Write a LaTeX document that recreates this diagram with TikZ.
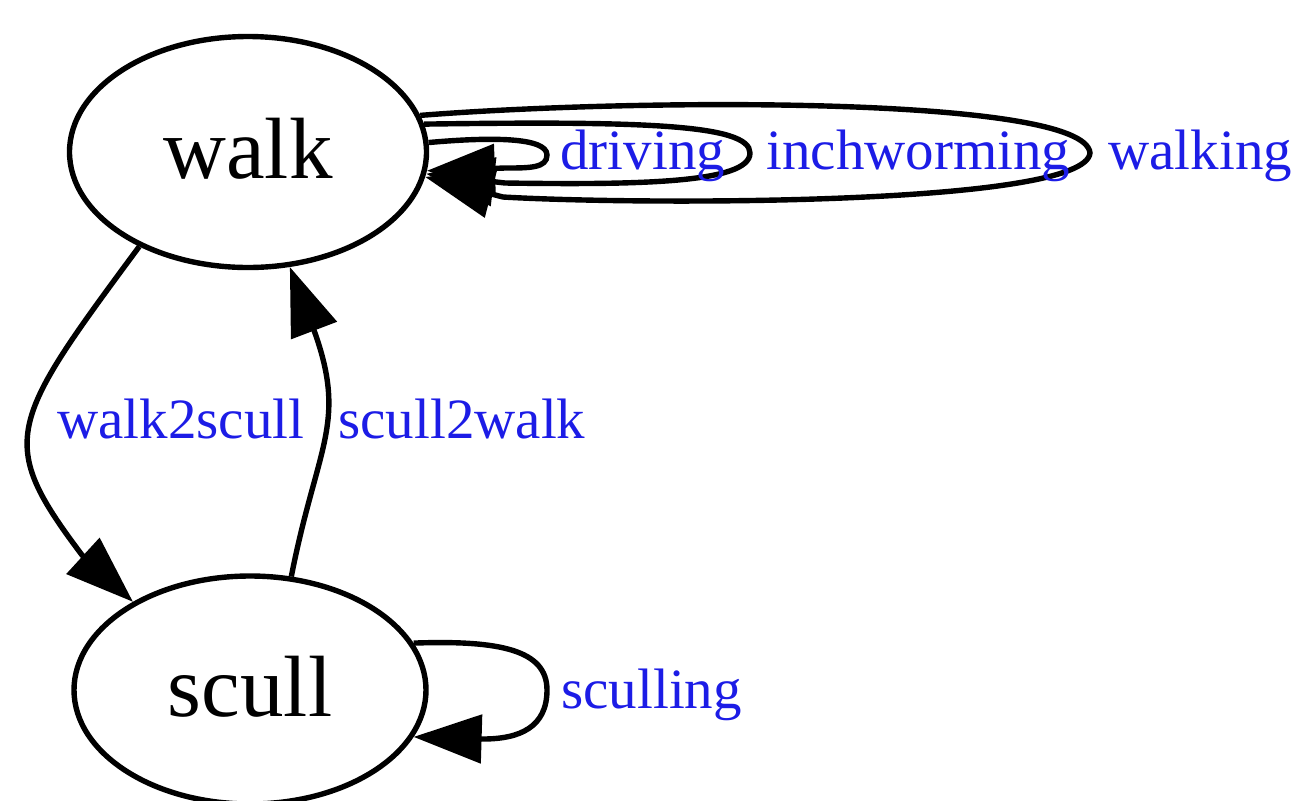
\documentclass[tikz,border=0pt]{standalone}
\usepackage{fontspec}
\setmainfont{Liberation Serif}
\usetikzlibrary{arrows.meta,shapes.geometric}
\definecolor{lblue}{RGB}{28,28,230}
\begin{document}
\begin{tikzpicture}[x=0.5pt,y=-0.5pt,
  state/.style={draw,ellipse,line width=2.7pt,inner sep=0pt,text depth=4pt,font=\fontsize{43.5pt}{50pt}\selectfont},
  edge/.style={line width=2.7pt,-{Triangle[length=34pt,width=24pt]}},
  lbl/.style={anchor=base west,inner sep=0pt,text=lblue,font=\fontsize{28.5pt}{34pt}\selectfont}]
\useasboundingbox (0,0) rectangle (1297,800);
\node[state,minimum width=178.5pt,minimum height=115.5pt] (walk) at (248,152) {walk};
\node[state,minimum width=176pt,minimum height=114pt] (scull) at (250,690) {scull};
% walk <-> scull
\draw[edge] (walk.221.5) .. controls (8,424) and (-4,441) .. (82,555) -- (scull.143.3);
\draw[edge] (scull.70.3) .. controls (317,446) and (347,424) .. (315,333) -- (walk.290.6);
% self loops on walk
\draw[edge] (walk.3.8) .. controls (490,137) and (547,137) .. (547,155)
  .. controls (547,168) and (530,168) .. (505,168) -- (walk.-6);
\draw[edge] (walk.9.4) .. controls (640,121) and (750,124) .. (750,153)
  .. controls (750,183) and (640,185) .. (505,183) -- (walk.-7.9);
\draw[edge] (walk.12.2) .. controls (640,98) and (1085,96) .. (1090,153)
  .. controls (1085,206) and (640,205) .. (503,197) -- (walk.-8.8);
% self loop on scull
\draw[edge] (scull.16.1) .. controls (500,640) and (547,650) .. (547,690)
  .. controls (547,727) and (520,739) .. (483,739) -- (scull.-16.2);
% labels
\node[lbl] (ldriving) at (560,169) {driving};
\node[lbl] (linch) at (766,169) {inchworming};
\node[lbl] (lwalking) at (1108,169) {walking};
\node[lbl] (lw2s) at (57,438) {walk2scull};
\node[lbl] (ls2w) at (338,438) {scull2walk};
\node[lbl] (lscull) at (561,708) {sculling};
\end{tikzpicture}
\end{document}
